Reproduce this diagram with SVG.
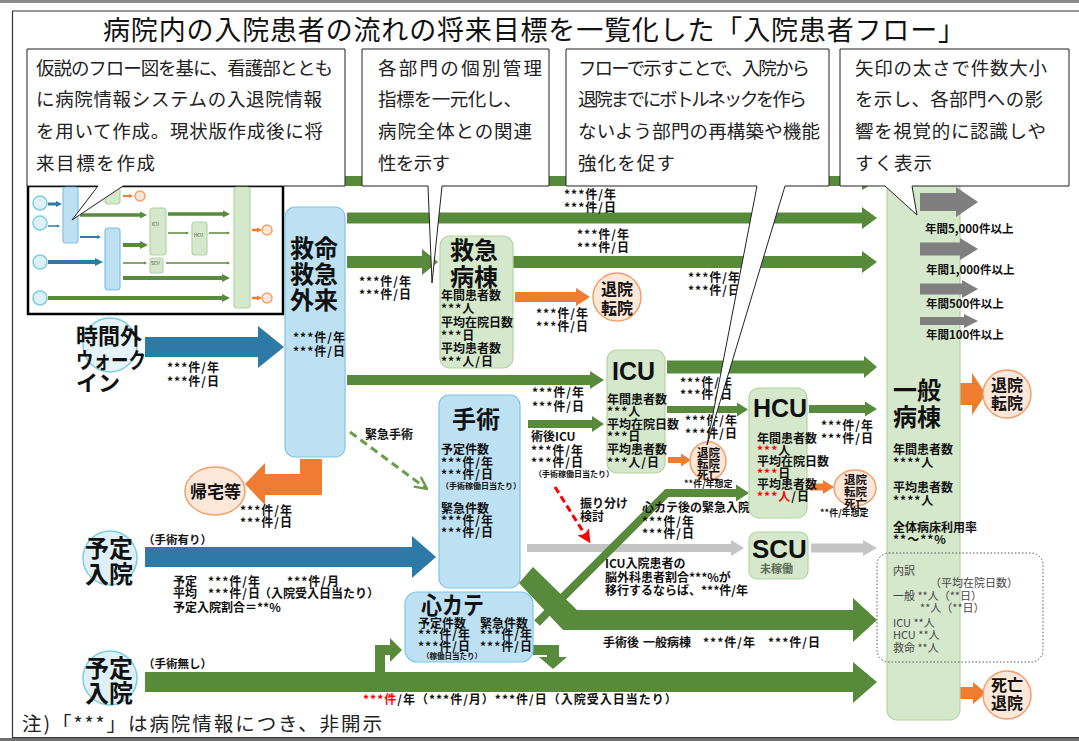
<svg xmlns="http://www.w3.org/2000/svg" width="1079" height="741" viewBox="0 0 1079 741">
<defs>
<style>
text{font-family:"Noto Sans CJK JP","Noto Sans",sans-serif;fill:#111}
.ttl{font-size:27px}
.cal{font-size:18.5px;fill:#222}
.big{font-size:24px;font-weight:700}
.wk{font-size:22px;font-weight:700}
.lat{font-family:"Liberation Sans",Arial,sans-serif;font-size:25px;font-weight:700}
.s{font-size:12px;font-weight:700}
.n{font-size:12px;font-weight:700;letter-spacing:1px}
.xs{font-size:8px;font-weight:700;letter-spacing:0}
.c{font-size:16px;font-weight:700}
.cs{font-size:11.5px;font-weight:700}
.c9{font-size:9px;font-weight:700}
.u{font-size:11px;fill:#444}
.tiny{font-size:4.5px;fill:#333}
.r{fill:#f00}
.ga{fill:#578a3a}
.ba{fill:#2e7aa6}
.oa{fill:#ee7d31}
.gy{fill:#c4c4c4}
.lg{fill:#7f7f7f}
.bb{fill:#bde0f3;stroke:#80c4e6;stroke-width:1.2}
.gb{fill:#d5e8cc;stroke:#b3d4a2;stroke-width:1.2}
.oc{fill:#fde7d9;stroke:#f2a06a;stroke-width:1.5}
.tc{fill:#dff1f7;stroke:#7ccfe0;stroke-width:1.5}
.co{fill:#fff;stroke:#222;stroke-width:1}
.tg{stroke:#578a3a;fill:none}
.tb{stroke:#2e7aa6;fill:none}
.to{stroke:#ee7d31;fill:none}
</style>
<marker id="mg" viewBox="0 0 10 10" refX="0" refY="5" markerWidth="2" markerHeight="2.4" orient="auto"><path d="M0,0 L10,5 L0,10 z" fill="#578a3a"/></marker>
<marker id="mb" viewBox="0 0 10 10" refX="0" refY="5" markerWidth="2" markerHeight="2.4" orient="auto"><path d="M0,0 L10,5 L0,10 z" fill="#2e7aa6"/></marker>
<marker id="mo" viewBox="0 0 10 10" refX="0" refY="5" markerWidth="2" markerHeight="2.4" orient="auto"><path d="M0,0 L10,5 L0,10 z" fill="#ee7d31"/></marker>
<marker id="chev" viewBox="0 0 10 10" refX="9" refY="5" markerWidth="5" markerHeight="5" orient="auto"><path d="M1,1 L9,5 L1,9" fill="none" stroke="#6a9c4a" stroke-width="1.6"/></marker>
<marker id="redh" viewBox="0 0 10 10" refX="8" refY="5" markerWidth="4.5" markerHeight="4.5" orient="auto"><path d="M0,0 L10,5 L0,10 L2,5 z" fill="#f00"/></marker>
</defs>

<rect x="0" y="0" width="1079" height="741" fill="#fff"/>
<rect x="0" y="0" width="1079" height="3" fill="#8a8a8a"/>
<rect x="0" y="738" width="1079" height="3" fill="#6e6e6e"/>
<path d="M1079,11 H12.5 V737.5 H1079" fill="none" stroke="#333" stroke-width="1.2"/>

<text id="title" class="ttl" x="103" y="40" textLength="862">病院内の入院患者の流れの将来目標を一覧化した「入院患者フロー」</text>

<g id="thumbnail">
<rect x="28" y="186" width="255" height="128" fill="#fff" stroke="#000" stroke-width="2.5"/>
<rect class="bb" x="63" y="187" width="15" height="56" rx="3"/>
<rect class="gb" x="105" y="187" width="15" height="17" rx="3"/>
<rect class="gb" x="150" y="208" width="16" height="47" rx="3"/>
<rect class="gb" x="192" y="222" width="15" height="33" rx="3"/>
<rect class="gb" x="150" y="258" width="13" height="15" rx="2"/>
<rect class="gb" x="234" y="187" width="16" height="121" rx="3"/>
<rect class="bb" x="105" y="228" width="15" height="62" rx="3"/>
<circle class="tc" cx="40" cy="203" r="7"/>
<circle class="tc" cx="40" cy="223" r="7"/>
<circle class="tc" cx="40" cy="262" r="7"/>
<circle class="tc" cx="40" cy="298" r="7"/>
<circle class="oc" cx="140" cy="196" r="5"/>
<circle class="oc" cx="267" cy="230" r="5"/>
<circle class="oc" cx="267" cy="298" r="5"/>
<line class="tb" x1="48" y1="204" x2="56" y2="204" stroke-width="3" marker-end="url(#mb)"/>
<line class="tb" x1="48" y1="226" x2="57" y2="226" stroke-width="1.5" marker-end="url(#mb)"/>
<line class="tb" x1="80" y1="237" x2="97" y2="237" stroke-width="2" marker-end="url(#mb)"/>
<line class="tb" x1="48" y1="262" x2="95" y2="262" stroke-width="4" marker-end="url(#mb)"/>
<line class="to" x1="123" y1="196" x2="129" y2="196" stroke-width="2" marker-end="url(#mo)"/>
<line class="to" x1="252" y1="230" x2="257" y2="230" stroke-width="2.5" marker-end="url(#mo)"/>
<line class="to" x1="252" y1="298" x2="257" y2="298" stroke-width="2.5" marker-end="url(#mo)"/>
<line class="tg" x1="80" y1="215" x2="140" y2="215" stroke-width="3.5" marker-end="url(#mg)"/>
<line class="tg" x1="168" y1="214" x2="223" y2="214" stroke-width="3.5" marker-end="url(#mg)"/>
<line class="tg" x1="168" y1="233" x2="186" y2="233" stroke-width="1.5" marker-end="url(#mg)"/>
<line class="tg" x1="209" y1="233" x2="227" y2="233" stroke-width="1.5" marker-end="url(#mg)"/>
<line class="tg" x1="123" y1="245" x2="140" y2="245" stroke-width="4" marker-end="url(#mg)"/>
<line class="tg" x1="123" y1="263" x2="144" y2="263" stroke-width="1.5" marker-end="url(#mg)"/>
<line class="tg" x1="166" y1="263" x2="227" y2="263" stroke-width="1.5" marker-end="url(#mg)"/>
<line class="tg" x1="123" y1="278" x2="222" y2="278" stroke-width="4" marker-end="url(#mg)"/>
<line class="tg" x1="48" y1="298" x2="222" y2="298" stroke-width="4" marker-end="url(#mg)"/>
<text class="tiny" x="152" y="226">ICU</text>
<text class="tiny" x="194" y="237">HCU</text>
<text class="tiny" x="151" y="265">SCU</text>
</g>

<g id="connectors">
<polygon class="ga" points="290,176 862,176 862,172 877,181 862,190 862,186 290,186"/>
<polygon class="ga" points="347,212.5 862,212.5 862,207 877,218 862,229 862,223.5 347,223.5"/>
<polygon class="ga" points="347,256 422,256 422,249 438,262 422,275 422,268 347,268"/>
<polygon class="ga" points="513,256 862,256 862,251 877,262 862,273 862,268 513,268"/>
<polygon class="oa" points="515,292 576,292 576,288 590,297 576,306 576,302 515,302"/>
<polygon class="ga" points="347,375 590,375 590,371 604,380 590,389 590,385 347,385"/>
<polygon class="ga" points="528,420 592,420 592,416 604,424 592,432 592,428 528,428"/>
<polygon class="ga" points="667,360.5 864,360.5 864,356 877,367 864,378 864,373.5 667,373.5"/>
<polygon class="ga" points="667,406 737,406 737,402.5 748,409.5 737,416.5 737,413 667,413"/>
<polygon class="ga" points="809,405 865,405 865,401.5 877,409 865,416.5 865,413 809,413"/>
<polygon class="oa" points="668,457 681,457 681,453.5 691,460 681,466.5 681,463 668,463"/>
<polygon class="oa" points="810,483.5 823,483.5 823,480 834,487 823,494 823,490.5 810,490.5"/>
<polygon class="oa" points="958,383 972,383 972,373 986,394 972,415 972,405 958,405"/>
<polygon class="oa" points="958,687 973,687 973,682 986,693 973,704 973,699 958,699"/>
<polygon class="gy" points="527,544 731,544 731,540 744,548 731,556 731,552 527,552"/>
<polygon class="gy" points="811,543.5 863,543.5 863,540 877,548 863,556 863,552.5 811,552.5"/>
<polygon class="ba" points="145,337 258,337 258,326 284,347 258,368 258,357 145,357"/>
<polygon class="ba" points="145,547 412,547 412,536 436,557 412,578 412,567 145,567"/>
<polygon class="ga" points="145,672 853,672 853,662 877,682 853,703 853,692 145,692"/>
<polygon class="ga" points="533,567 577,610 853,610 853,598 877,620 853,642 853,630 563,630 519,583"/>
<polyline points="537,623 667,493 737,493" fill="none" stroke="#578a3a" stroke-width="8"/>
<polygon class="ga" points="736,484.5 749,493 736,501.5"/>
<polygon class="ga" points="375,672 375,645 390,645 390,638 402,650 390,662 390,655 385,655 385,672"/>
<polygon class="ga" points="533,645 559,645 559,657 567,657 553,669 539,657 547,657 547,655 533,655"/>
<polygon class="oa" points="300,459 322,459 322,495 265,495 265,505 245,484 265,463 265,474 300,474"/>
<line x1="350" y1="432" x2="427" y2="489" stroke="#6a9c4a" stroke-width="3" stroke-dasharray="8,5" marker-end="url(#chev)"/>
<line x1="555" y1="487" x2="589" y2="541" stroke="#f00" stroke-width="3" stroke-dasharray="7,4" marker-end="url(#redh)"/>
</g>

<g id="labels">
<text class="n"><tspan x="564" y="199">***件/年</tspan><tspan x="564" y="212">***件/日</tspan></text>
<text class="n"><tspan x="577" y="239">***件/年</tspan><tspan x="577" y="252">***件/日</tspan></text>
<text class="n"><tspan x="359" y="286">***件/年</tspan><tspan x="359" y="299">***件/日</tspan></text>
<text class="n"><tspan x="536" y="318">***件/年</tspan><tspan x="536" y="331">***件/日</tspan></text>
<text class="n"><tspan x="688" y="282">***件/年</tspan><tspan x="688" y="295">***件/日</tspan></text>
<text class="n"><tspan x="167" y="372">***件/年</tspan><tspan x="167" y="386">***件/日</tspan></text>
<text class="n"><tspan x="532" y="397">***件/年</tspan><tspan x="532" y="411">***件/日</tspan></text>
<text class="n"><tspan x="680" y="387">***件/年</tspan><tspan x="680" y="399">***件/日</tspan></text>
<text class="n"><tspan x="685" y="425">***件/年</tspan><tspan x="685" y="438">***件/日</tspan></text>
<text class="n"><tspan x="821" y="430">***件/年</tspan><tspan x="821" y="443">***件/日</tspan></text>
<text class="s"><tspan x="531" y="441">術後ICU</tspan><tspan class="n" x="531" y="455">***件/年</tspan><tspan class="n" x="531" y="467">***件/日</tspan><tspan class="xs" x="534" y="477">（手術稼働日当たり）</tspan></text>
<text class="s" x="365" y="439">緊急手術</text>
<text class="n"><tspan x="240" y="515">***件/年</tspan><tspan x="240" y="527">***件/日</tspan></text>
<text class="s"><tspan x="580" y="508">振り分け</tspan><tspan x="580" y="521">検討</tspan></text>
<text class="s"><tspan x="642" y="512">心カテ後の緊急入院</tspan><tspan class="n" x="642" y="526">***件/年</tspan><tspan class="n" x="642" y="538">***件/日</tspan></text>
<text class="s"><tspan x="605" y="568">ICU入院患者の</tspan><tspan x="605" y="582">脳外科患者割合***%が</tspan><tspan x="605" y="595">移行するならば、***件/年</tspan></text>
<text class="s"><tspan x="603" y="647">手術後</tspan><tspan x="643" y="647">一般病棟</tspan><tspan class="n" x="703" y="647">***件/年</tspan><tspan class="n" x="768" y="647">***件/日</tspan></text>
<text class="cs" x="143" y="544">（手術有り）</text>
<text class="s"><tspan x="173" y="586">予定</tspan><tspan class="n" x="208" y="586">***件/年</tspan><tspan class="n" x="287" y="586">***件/月</tspan><tspan x="173" y="598">平均</tspan><tspan class="n" x="208" y="598">***件/日</tspan><tspan x="259" y="598">（入院受入日当たり）</tspan><tspan x="173" y="612">予定入院割合＝**%</tspan></text>
<text class="cs" x="143" y="668">（手術無し）</text>
<text class="n" x="363" y="704"><tspan class="r">***件</tspan>/年（***件/月）***件/日（入院受入日当たり）</text>
</g>

<g id="node-kyumei">
<rect class="bb" x="285" y="207" width="60" height="250" rx="10"/>
<text class="big"><tspan x="290" y="257">救命</tspan><tspan x="290" y="283">救急</tspan><tspan x="290" y="309">外来</tspan></text>
<text class="n"><tspan x="293" y="342">***件/年</tspan><tspan x="293" y="356">***件/日</tspan></text>
</g>
<g id="node-walkin">
<circle class="tc" cx="110" cy="345" r="27" fill-opacity="0.8"/>
<text class="wk"><tspan x="76" y="344">時間外</tspan><tspan x="76" y="368" textLength="70" lengthAdjust="spacingAndGlyphs">ウォーク</tspan><tspan x="76" y="391">イン</tspan></text>
</g>
<g id="node-yotei1">
<circle class="tc" cx="110" cy="558" r="27"/>
<text class="big"><tspan x="85" y="557">予定</tspan><tspan x="85" y="583">入院</tspan></text>
</g>
<g id="node-yotei2">
<circle class="tc" cx="110" cy="678" r="27"/>
<text class="big"><tspan x="85" y="677">予定</tspan><tspan x="85" y="702">入院</tspan></text>
</g>
<g id="node-kitaku">
<ellipse class="oc" cx="215" cy="491" rx="30" ry="24"/>
<text x="190" y="498" style="font-size:17px;font-weight:700">帰宅等</text>
</g>
<g id="node-kyukyu-byoto">
<rect class="gb" x="440" y="236" width="73" height="132" rx="10"/>
<text class="big"><tspan x="450" y="259">救急</tspan><tspan x="450" y="286">病棟</tspan></text>
<text class="s"><tspan x="441" y="300">年間患者数</tspan><tspan class="n" x="441" y="313">***人</tspan><tspan x="441" y="327">平均在院日数</tspan><tspan class="n" x="441" y="340">***日</tspan><tspan x="441" y="353">平均患者数</tspan><tspan class="n" x="441" y="366">***人/日</tspan></text>
</g>
<g id="node-taiin1">
<circle class="oc" cx="617" cy="297" r="24"/>
<text class="c"><tspan x="601" y="295">退院</tspan><tspan x="601" y="314">転院</tspan></text>
</g>
<g id="node-icu">
<rect class="gb" x="607" y="350" width="58" height="123" rx="10"/>
<text class="lat" x="612" y="380">ICU</text>
<text class="s"><tspan x="607" y="404">年間患者数</tspan><tspan class="n" x="607" y="416">***人</tspan><tspan x="607" y="429">平均在院日数</tspan><tspan class="n" x="607" y="441">***日</tspan><tspan x="607" y="454">平均患者数</tspan><tspan class="n" x="607" y="467">***人/日</tspan></text>
</g>
<g id="node-icu-out">
<ellipse class="oc" cx="708" cy="461" rx="18" ry="19"/>
<text class="cs"><tspan x="697" y="457">退院</tspan><tspan x="697" y="468">転院</tspan><tspan x="697" y="479">死亡</tspan><tspan class="c9" x="684" y="487">**件/年想定</tspan></text>
</g>
<g id="node-hcu">
<rect class="gb" x="749" y="388" width="58" height="130" rx="10"/>
<text class="lat" x="753" y="417">HCU</text>
<text class="s"><tspan x="757" y="443">年間患者数</tspan><tspan class="n" x="757" y="455"><tspan class="r">***</tspan>人</tspan><tspan x="757" y="466">平均在院日数</tspan><tspan class="n" x="757" y="478"><tspan class="r">***</tspan>日</tspan><tspan x="757" y="489">平均患者数</tspan><tspan class="n" x="757" y="501"><tspan class="r">***人</tspan>/日</tspan></text>
</g>
<g id="node-hcu-out">
<ellipse class="oc" cx="855" cy="488" rx="21" ry="18"/>
<text class="cs"><tspan x="844" y="484">退院</tspan><tspan x="844" y="496">転院</tspan><tspan x="844" y="508">死亡</tspan><tspan class="c9" x="820" y="516">**件/年想定</tspan></text>
</g>
<g id="node-scu">
<rect class="gb" x="749" y="532" width="59" height="47" rx="8"/>
<text class="lat" x="752" y="558" style="font-size:26px">SCU</text>
<text x="760" y="573" style="font-size:11px;font-weight:700;fill:#5a6a55">未稼働</text>
</g>
<g id="node-shujutsu">
<rect class="bb" x="439" y="395" width="81" height="193" rx="10"/>
<text class="big" x="452" y="428">手術</text>
<text class="s"><tspan x="441" y="454">予定件数</tspan><tspan class="n" x="441" y="467">***件/年</tspan><tspan class="n" x="441" y="479">***件/日</tspan><tspan class="xs" x="441" y="489">（手術稼働日当たり）</tspan><tspan x="441" y="513">緊急件数</tspan><tspan class="n" x="441" y="525">***件/年</tspan><tspan class="n" x="441" y="537">***件/日</tspan></text>
</g>
<g id="node-shincate">
<rect class="bb" x="405" y="592" width="128" height="70" rx="12"/>
<text class="big" x="421" y="614" textLength="63" lengthAdjust="spacingAndGlyphs">心カテ</text>
<text class="s"><tspan x="418" y="628">予定件数</tspan><tspan x="480" y="628">緊急件数</tspan><tspan class="n" x="418" y="639">***件/年</tspan><tspan class="n" x="480" y="639">***件/年</tspan><tspan class="n" x="418" y="651">***件/日</tspan><tspan class="n" x="480" y="651">***件/日</tspan><tspan x="422" y="659" style="font-size:7.5px">（稼働日当たり）</tspan></text>
</g>
<g id="node-ippan">
<rect class="gb" x="887" y="175" width="73" height="545" rx="10"/>
<text class="big"><tspan x="893" y="399">一般</tspan><tspan x="893" y="426">病棟</tspan></text>
<text class="s"><tspan x="893" y="454">年間患者数</tspan><tspan class="n" x="893" y="467">****人</tspan><tspan x="893" y="492">平均患者数</tspan><tspan class="n" x="893" y="505">****人</tspan><tspan x="893" y="532">全体病床利用率</tspan><tspan class="n" x="893" y="544">**～**%</tspan></text>
</g>
<g id="node-uchiwake">
<rect x="877" y="553" width="166" height="109" rx="12" fill="none" stroke="#555" stroke-width="1" stroke-dasharray="1.5,2"/>
<text class="u"><tspan x="893" y="575">内訳</tspan><tspan x="930" y="587">（平均在院日数）</tspan><tspan x="893" y="600">一般 **人（**日）</tspan><tspan x="920" y="612">**人（**日）</tspan><tspan x="893" y="627">ICU  **人</tspan><tspan x="893" y="639">HCU **人</tspan><tspan x="893" y="652">救命 **人</tspan></text>
</g>
<g id="node-taiin2">
<circle class="oc" cx="1007" cy="394" r="24"/>
<text class="c"><tspan x="991" y="391">退院</tspan><tspan x="991" y="409">転院</tspan></text>
</g>
<g id="node-shibo">
<circle class="oc" cx="1007" cy="695" r="24"/>
<text class="c"><tspan x="991" y="691">死亡</tspan><tspan x="991" y="709">退院</tspan></text>
</g>

<g id="legend">
<polygon class="lg" points="920,193 956,193 956,187 978,202 956,217 956,211 920,211"/>
<polygon class="lg" points="920,242.5 960,242.5 960,238 978,249 960,260 960,255.5 920,255.5"/>
<polygon class="lg" points="920,283.5 962,283.5 962,280 978,289 962,298 962,294.5 920,294.5"/>
<polygon class="lg" points="920,317 964,317 964,314 978,321 964,328 964,325 920,325"/>
<text class="cs" x="925" y="233">年間5,000件以上</text>
<text class="cs" x="926" y="274">年間1,000件以上</text>
<text class="cs" x="926" y="308">年間500件以上</text>
<text class="cs" x="926" y="339">年間100件以上</text>
</g>

<g id="callout-1">
<path class="co" d="M27,49 H345 V186 H123 L72,220 L98,186 H27 Z"/>
<text class="cal"><tspan x="36" y="75" textLength="297">仮説のフロー図を基に、看護部ととも</tspan><tspan x="36" y="106" textLength="286">に病院情報システムの入退院情報</tspan><tspan x="36" y="138" textLength="287">を用いて作成。現状版作成後に将</tspan><tspan x="36" y="170" textLength="119">来目標を作成</tspan></text>
</g>
<g id="callout-2">
<path class="co" d="M362,49 H549 V186 H442 L432,283 L428,186 H362 Z"/>
<text class="cal"><tspan x="378" y="75" textLength="164">各部門の個別管理</tspan><tspan x="378" y="106" textLength="144">指標を一元化し、</tspan><tspan x="378" y="138" textLength="154">病院全体との関連</tspan><tspan x="378" y="170" textLength="72">性を示す</tspan></text>
</g>
<g id="callout-3">
<path class="co" d="M566,49 H829 V186 H785 L707,445 L757,186 H566 Z"/>
<text class="cal"><tspan x="578" y="75" textLength="232">フローで示すことで、入院から</tspan><tspan x="578" y="106" textLength="229">退院までにボトルネックを作ら</tspan><tspan x="578" y="138" textLength="242">ないよう部門の再構築や機能</tspan><tspan x="578" y="170" textLength="97">強化を促す</tspan></text>
</g>
<g id="callout-4">
<path class="co" d="M840,49 H1069 V186 H912 L917,215 L885,186 H840 Z"/>
<text class="cal"><tspan x="855" y="75" textLength="192">矢印の太さで件数大小</tspan><tspan x="855" y="106" textLength="188">を示し、各部門への影</tspan><tspan x="855" y="138" textLength="191">響を視覚的に認識しや</tspan><tspan x="855" y="170" textLength="77">すく表示</tspan></text>
</g>

<text id="note" x="22" y="731" style="font-size:19.5px;fill:#222" textLength="360">注)「***」は病院情報につき、非開示</text>
</svg>
